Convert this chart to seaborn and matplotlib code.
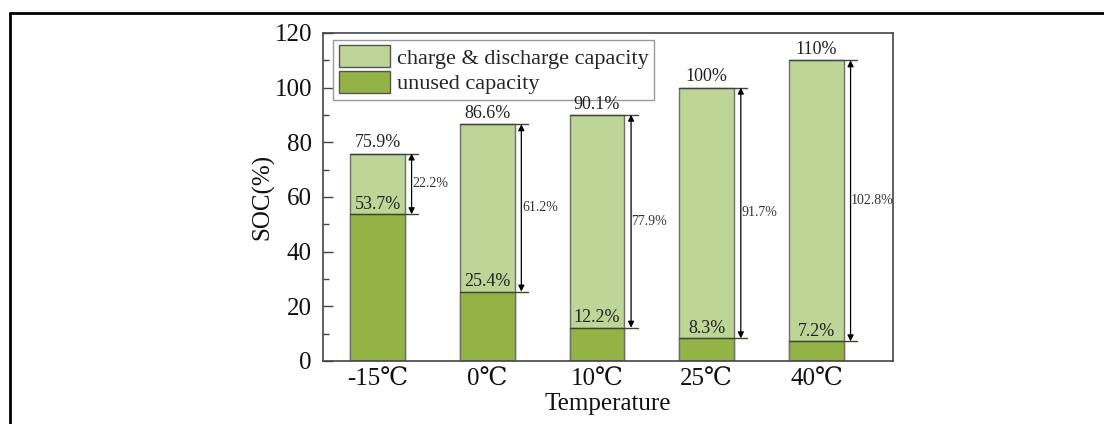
import matplotlib
matplotlib.use("Agg")
import matplotlib.pyplot as plt
from matplotlib.patches import Patch
from matplotlib.lines import Line2D
from matplotlib.ticker import MultipleLocator
import seaborn as sns
import pandas as pd

temperatures = ["-15℃", "0℃", "10℃", "25℃", "40℃"]
total_capacity = [75.9, 86.6, 90.1, 100.0, 110.0]
unused_capacity = [53.7, 25.4, 12.2, 8.3, 7.2]
usable_capacity = [22.2, 61.2, 77.9, 91.7, 102.8]
total_labels = ["75.9%", "86.6%", "90.1%", "100%", "110%"]
unused_labels = ["53.7%", "25.4%", "12.2%", "8.3%", "7.2%"]
usable_labels = ["22.2%", "61.2%", "77.9%", "91.7%", "102.8%"]

sns.set_theme(style="white")
plt.rcParams["font.family"] = ["Liberation Serif", "DejaVu Serif"]

light = "#bdd596"
dark = "#93b347"

df = pd.DataFrame({"Temperature": temperatures,
                   "total": total_capacity,
                   "unused": unused_capacity})

fig = plt.figure(figsize=(11.04, 4.24), dpi=100)
ax = fig.add_axes([0.2926, 0.1486, 0.5163, 0.7736])

sns.barplot(data=df, x="Temperature", y="total", order=temperatures,
            color=light, width=0.5, edgecolor="#6f6f6f", linewidth=1.0,
            saturation=1, ax=ax)
sns.barplot(data=df, x="Temperature", y="unused", order=temperatures,
            color=dark, width=0.5, edgecolor="#6f6f6f", linewidth=1.0,
            saturation=1, ax=ax)

ax.set_xlim(-0.497, 4.697)
ax.set_ylim(0, 120)

half = 0.25
for i in range(len(temperatures)):
    top = total_capacity[i]
    bot = unused_capacity[i]
    xr = i + half
    ax.plot([i - half, xr + 0.12], [top, top], color="#444444", lw=1.0, zorder=4)
    ax.plot([i - half, xr + 0.12], [bot, bot], color="#3d4a25", lw=1.0, zorder=4)
    ax.annotate("", xy=(xr + 0.06, bot), xytext=(xr + 0.06, top),
                arrowprops=dict(arrowstyle="<|-|>", color="black", lw=0.9,
                                mutation_scale=9, shrinkA=0, shrinkB=0),
                zorder=5)
    ax.text(xr + 0.065, (top + bot) / 2, usable_labels[i], ha="left",
            va="center", fontsize=10, color="#333333", zorder=6)
    ax.text(i, top + 0.8, total_labels[i], ha="center", va="bottom",
            fontsize=13, color="#222222", zorder=6)
    ax.text(i, bot + 0.6, unused_labels[i], ha="center", va="bottom",
            fontsize=13, color="#222222", zorder=6)

ax.yaxis.set_major_locator(MultipleLocator(20))
ax.yaxis.set_minor_locator(MultipleLocator(10))
ax.tick_params(axis="y", which="major", direction="in", length=7, width=1.0,
               labelsize=18, pad=8, color="#444444", left=True, right=False)
ax.tick_params(axis="y", which="minor", direction="in", length=4, width=1.0,
               color="#444444", left=True, right=False)
ax.tick_params(axis="x", which="major", direction="in", length=6, width=1.0,
               labelsize=18, pad=6, color="#444444", bottom=True, top=False)
for lab in ax.get_xticklabels() + ax.get_yticklabels():
    lab.set_color("#111111")

ax.set_xlabel("Temperature", fontsize=18, labelpad=1, color="#111111")
ax.set_ylabel("SOC(%)", fontsize=18, labelpad=0, color="#111111")

for s in ax.spines.values():
    s.set_visible(True)
    s.set_color("#444444")
    s.set_linewidth(1.2)

handles = [Patch(facecolor=light, edgecolor="#555555", lw=1.0,
                 label="charge & discharge capacity"),
           Patch(facecolor=dark, edgecolor="#555555", lw=1.0,
                 label="unused capacity")]
leg = ax.legend(handles=handles, loc="upper left", bbox_to_anchor=(0.018, 0.98),
                fontsize=16, frameon=True, fancybox=False, edgecolor="#999999",
                framealpha=1, handlelength=2.3, handleheight=1.15,
                handletextpad=0.3, labelspacing=0.1, borderpad=0.25,
                borderaxespad=0)
leg.get_frame().set_linewidth(1.0)

fig.add_artist(Line2D([10 / 1104, 1], [1 - 13 / 424, 1 - 13 / 424],
                      transform=fig.transFigure, color="black", lw=2.0))
fig.add_artist(Line2D([10 / 1104, 10 / 1104], [0, 1 - 13 / 424],
                      transform=fig.transFigure, color="black", lw=2.0))

fig.savefig("out.png", dpi=100)
